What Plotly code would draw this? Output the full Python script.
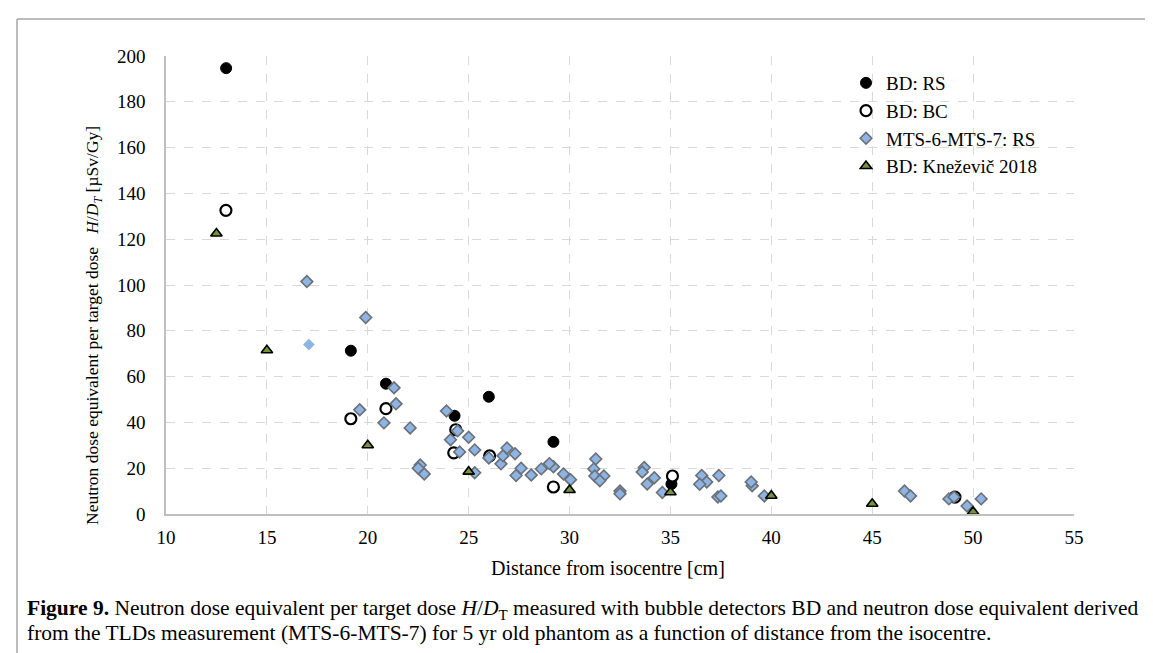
import plotly.graph_objects as go

# ---------------- data ----------------
rs_x = [12.98, 19.16, 20.9, 24.3, 26.0, 29.2, 35.05]
rs_y = [194.7, 71.3, 56.9, 42.9, 51.2, 31.5, 13.1]

bc_x = [12.97, 19.16, 20.9, 24.36, 24.26, 26.04, 29.2, 35.1, 49.1]
bc_y = [132.6, 41.6, 46.0, 36.8, 26.7, 25.4, 11.8, 16.6, 7.4]

mts_x = [16.98, 19.9, 21.3, 21.4, 19.6, 20.8, 22.1, 23.9, 24.1, 24.45, 25.0, 24.55,
         25.3, 22.6, 22.5, 22.8, 25.3, 26.0, 26.4, 26.6, 26.7, 26.9, 27.3, 27.6,
         27.35, 28.1, 28.6, 29.2, 29.0, 29.7, 30.05, 31.3, 31.2, 31.25, 31.7, 31.5,
         32.5, 32.5, 33.7, 33.6, 34.2, 33.85, 34.6, 36.55, 36.8, 36.45, 37.4, 37.35,
         37.5, 39.05, 39.0, 39.65, 46.6, 46.9, 48.8, 49.05, 49.7, 50.4]
mts_y = [101.5, 85.8, 55.1, 48.1, 45.5, 39.8, 37.6, 45.0, 32.4, 36.3, 33.5, 27.1,
         28.0, 21.4, 20.0, 17.5, 18.0, 24.5, -0.4, 21.9, 25.4, 28.8, 26.3, 20.0,
         16.8, 17.0, 19.7, 20.6, 22.0, 17.5, 15.0, 24.0, 19.7, 16.6, 16.6, 14.5,
         10.0, 8.8, 20.3, 18.3, 15.8, 13.1, 9.4, 16.8, 14.0, 13.0, 16.8, 7.4,
         7.9, 12.3, 14.0, 7.9, 10.0, 7.9, 6.6, 7.4, 3.5, 6.6]

mts_extra_x = [17.08]
mts_extra_y = [74.0]

kn_x = [12.5, 15.0, 20.0, 25.0, 30.0, 35.0, 40.0, 45.0, 50.0]
kn_y = [122.5, 71.5, 30.0, 18.5, 10.5, 9.5, 8.0, 4.5, 1.0]

x_ticks = [10, 15, 20, 25, 30, 35, 40, 45, 50, 55]
y_ticks = [0, 20, 40, 60, 80, 100, 120, 140, 160, 180, 200]

caption_1 = ("<b>Figure 9.</b> Neutron dose equivalent per target dose <i>H</i>/<i>D</i><sub>T</sub> "
             "measured with bubble detectors BD and neutron dose equivalent derived")
caption_2 = ("from the TLDs measurement (MTS-6-MTS-7) for 5 yr old phantom as a function of "
             "distance from the isocentre.")

FONT = "Liberation Serif"
W, H = 1153, 653
L, R, T, B = 158, 87, 48, 147
PW, PH = W - L - R, H - T - B


def px(xp):
    return (xp - L) / PW


def py(yp):
    return (H - B - yp) / PH


fig = go.Figure()

fig.add_trace(go.Scatter(
    x=rs_x, y=rs_y, mode="markers", name="BD: RS", cliponaxis=False,
    marker=dict(symbol="circle", size=11, color="black", line=dict(color="black", width=1))))

fig.add_trace(go.Scatter(
    x=bc_x, y=bc_y, mode="markers", name="BD: BC", cliponaxis=False,
    marker=dict(symbol="circle", size=11, color="white", line=dict(color="black", width=2.2))))

fig.add_trace(go.Scatter(
    x=mts_x, y=mts_y, mode="markers", name="MTS-6-MTS-7: RS", cliponaxis=False,
    marker=dict(symbol="diamond", size=9, color="#8DB4E2", line=dict(color="#6B7078", width=1.6))))

fig.add_trace(go.Scatter(
    x=mts_extra_x, y=mts_extra_y, mode="markers", showlegend=False, cliponaxis=False,
    marker=dict(symbol="diamond", size=9, color="#8DB4E2", line=dict(width=0))))

fig.add_trace(go.Scatter(
    x=kn_x, y=kn_y, mode="markers", name="BD: Kneževič 2018", cliponaxis=False,
    marker=dict(symbol="triangle-up", size=10, color="#76923C", line=dict(color="black", width=1.6))))

fig.update_layout(
    width=W, height=H,
    margin=dict(l=L, r=R, t=T, b=B, pad=0),
    paper_bgcolor="white", plot_bgcolor="white",
    font=dict(family=FONT, size=19, color="black"),
    showlegend=True,
    legend=dict(x=px(838), y=py(56), xanchor="left", yanchor="top",
                bgcolor="rgba(0,0,0,0)", font=dict(family=FONT, size=19),
                itemwidth=30, tracegroupgap=0),
    xaxis=dict(range=[10, 55], tickvals=x_ticks, ticktext=[str(v) for v in x_ticks],
               showgrid=True, gridcolor="#D9D9D9", griddash="dash", gridwidth=1,
               showline=True, linecolor="#BFBFBF", linewidth=2, zeroline=False,
               ticks="", ticklabelstandoff=5, tickfont=dict(family=FONT, size=19)),
    yaxis=dict(range=[0, 200], tickvals=y_ticks, ticktext=[str(v) for v in y_ticks],
               showgrid=True, gridcolor="#D9D9D9", griddash="dash", gridwidth=1,
               showline=True, linecolor="#BFBFBF", linewidth=1.5, zeroline=False,
               ticks="", ticklabelstandoff=15, tickfont=dict(family=FONT, size=19)),
)

# y-axis title
fig.add_annotation(text="Neutron dose equivalent per target dose   <i>H</i>/<i>D<sub>T</sub></i> [µSv/Gy]",
                   xref="paper", yref="paper", x=px(86), y=py(318), textangle=-90,
                   xanchor="center", yanchor="middle", showarrow=False,
                   font=dict(family=FONT, size=17.5))

# x-axis title
fig.add_annotation(text="Distance from isocentre [cm]", xref="paper", yref="paper",
                   x=px(600), y=py(560), xanchor="center", yanchor="middle", showarrow=False,
                   font=dict(family=FONT, size=20))

# caption (two lines)
fig.add_annotation(text=caption_1, xref="paper", yref="paper", x=px(17), y=py(601),
                   xanchor="left", yanchor="middle", align="left", showarrow=False,
                   font=dict(family=FONT, size=21.5))
fig.add_annotation(text=caption_2, xref="paper", yref="paper", x=px(17), y=py(625),
                   xanchor="left", yanchor="middle", align="left", showarrow=False,
                   font=dict(family=FONT, size=21.5))

# frame lines (top and left)
fig.add_shape(type="line", xref="paper", yref="paper",
              x0=px(9), x1=px(W), y0=py(11), y1=py(11),
              line=dict(color="#A6A6A6", width=1.5))
fig.add_shape(type="line", xref="paper", yref="paper",
              x0=px(9), x1=px(9), y0=py(11), y1=py(H),
              line=dict(color="#A6A6A6", width=1.5))

fig.write_html("out.html")
